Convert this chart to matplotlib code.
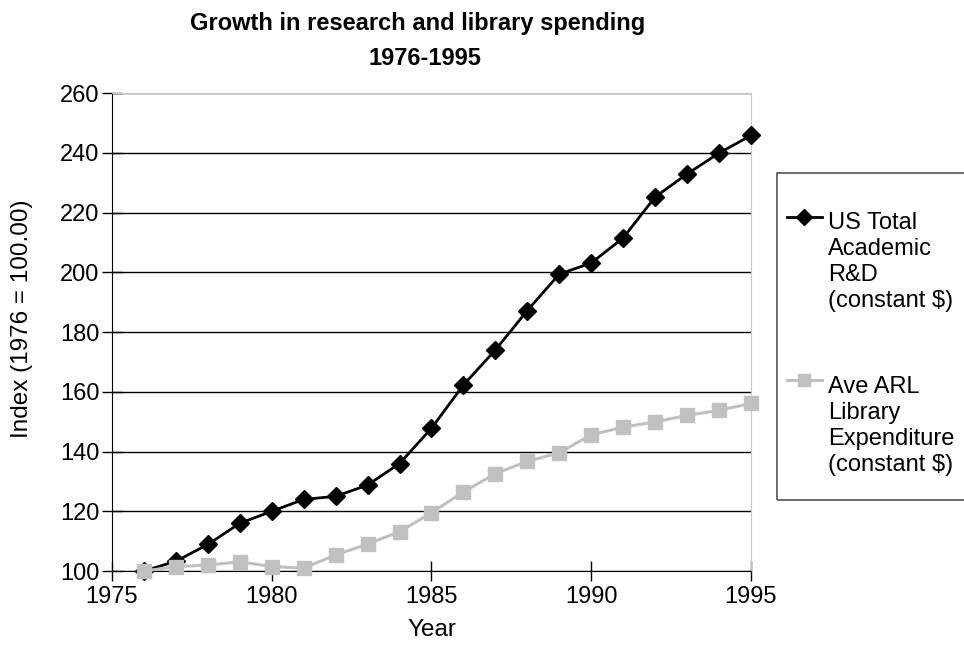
import matplotlib.pyplot as plt
from matplotlib.lines import Line2D
from matplotlib.patches import Rectangle

plt.rcParams['font.family'] = ['Liberation Sans', 'DejaVu Sans']

years = list(range(1976, 1996))
rd_index = [100, 103.3, 108.9, 116, 120, 124, 125, 128.8, 136, 147.8,
            162.3, 174, 187.2, 199.4, 203.1, 211.5, 225.2, 232.9, 239.9, 245.8]
arl_index = [100, 101.5, 102, 103.1, 101.5, 101, 105.4, 109, 113.2, 119.5,
             126.5, 132.6, 136.7, 139.6, 145.6, 148.2, 149.9, 152.1, 153.8, 156.1]
labels = ["US Total\nAcademic\nR&D\n(constant $)",
          "Ave ARL\nLibrary\nExpenditure\n(constant $)"]
gray = "#c0c0c0"

fig = plt.figure(figsize=(9.64, 6.46), dpi=100)
ax = fig.add_axes([0.1162, 0.116, 0.6628, 0.740])

ax.plot(years, rd_index, color="black", lw=2, marker="D", ms=9, zorder=3, clip_on=False)
ax.plot(years, arl_index, color=gray, lw=2.2, marker="s", ms=10, zorder=4, clip_on=False)

ax.set_xlim(1975, 1995)
ax.set_ylim(100, 260)
ax.set_xticks(range(1975, 1996, 5))
ax.set_yticks(range(100, 261, 20))
ax.yaxis.grid(True, color="black", lw=1)
ax.set_axisbelow(True)
ax.tick_params(labelsize=17, length=14, width=1, direction="inout", colors="black")
ax.tick_params(axis="x", pad=4)
ax.tick_params(axis="y", pad=2)
ax.spines["top"].set_color("#c8c8c8")
ax.spines["right"].set_color("#c8c8c8")

ax.set_xlabel("Year", fontsize=17.5, labelpad=8)
ax.set_ylabel("Index (1976 = 100.00)", fontsize=17.5)
ax.yaxis.set_label_coords(-0.124, 0.527)

fig.text(0.433, 0.963, "Growth in research and library spending",
         ha="center", va="center", fontsize=17, fontweight="bold")
fig.text(0.441, 0.909, "1976-1995", ha="center", va="center",
         fontsize=17, fontweight="bold")

# legend box drawn by hand so the key sits on the first line of each label
fig.patches.append(Rectangle((0.806, 0.226), 0.25, 0.506, transform=fig.transFigure,
                             fill=False, edgecolor="#555555", lw=1.2))
styles = [dict(color="black", lw=2, marker="D", ms=8.5),
          dict(color=gray, lw=2.2, marker="s", ms=9)]
text_tops = [0.672, 0.418]
key_ys = [0.664, 0.412]
for lab, st, ytop, ykey in zip(labels, styles, text_tops, key_ys):
    fig.add_artist(Line2D([0.816, 0.853], [ykey, ykey], transform=fig.transFigure,
                          color=st["color"], lw=st["lw"]))
    fig.add_artist(Line2D([0.8345], [ykey], transform=fig.transFigure,
                          linestyle="none", marker=st["marker"], ms=st["ms"],
                          color=st["color"]))
    fig.text(0.859, ytop, lab, ha="left", va="top",
             fontsize=17, linespacing=1.24)

plt.savefig("out.png", dpi=100)
